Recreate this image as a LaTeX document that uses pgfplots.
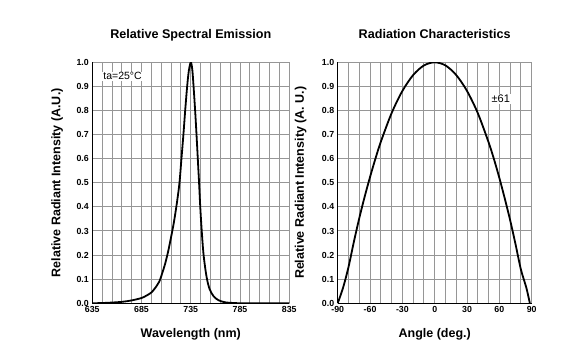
\documentclass[border=0pt]{standalone}
\usepackage{pgfplots}
\pgfplotsset{compat=1.18}
\usepackage{fontspec}
\setmainfont{Liberation Sans}
\definecolor{gridgray}{RGB}{150,150,150}
\pgfplotsset{
  chartstyle/.style={
    scale only axis,
    height=241pt,
    axis lines=left,
    axis line style={-, black, line width=1.2pt},
    grid=both,
    major grid style={gridgray, line width=1pt},
    minor grid style={gridgray, line width=1pt},
    major tick length=0pt, minor tick length=0pt,
    ymin=0, ymax=1,
    ytick={0,0.1,0.2,0.3,0.4,0.5,0.6,0.7,0.8,0.9,1.0},
    yticklabel style={/pgf/number format/.cd, fixed, fixed zerofill, precision=1},
    xticklabel style={/pgf/number format/.cd, fixed},
    /pgf/number format/assume math mode=true,
    tick label style={font=\fontsize{8.8}{10}\selectfont\bfseries},
    label style={font=\fontsize{12.5}{14}\selectfont\bfseries},
    title style={font=\fontsize{12.6}{14}\selectfont\bfseries, at={(0.5,1.0747)}, anchor=base},
    xlabel style={at={(0.5,-0.141)}, anchor=base},
  }
}
\begin{document}
\begin{tikzpicture}
\useasboundingbox (0,0) rectangle (567pt,358pt);
\begin{axis}[chartstyle,
  at={(92.3pt,54.7pt)}, anchor=south west,
  width=197pt,
  xmin=635, xmax=835,
  xtick={635,685,735,785,835},
  minor x tick num=4,
  title={Relative Spectral Emission},
  xlabel={Wavelength (nm)},
  ylabel={Relative Radiant Intensity (A.U.)},
  ylabel style={at={(-0.178,0.5)}, anchor=center},
]
\addplot[black, line width=1.8pt, smooth, tension=0.5] coordinates {
(635,0) (650,0.002) (665,0.006) (675,0.012) (685,0.022) (690,0.032)
(695,0.045) (700,0.07) (703,0.09) (706,0.125) (709,0.165) (712,0.215)
(715,0.275) (718,0.34) (721,0.42) (723.5,0.50) (725.5,0.60) (727.5,0.70)
(729.3,0.80) (731.3,0.90) (733,0.965) (735,1.0) (736.5,0.97) (737.8,0.90)
(739.4,0.80) (740.8,0.70) (742.1,0.60) (743.4,0.50) (744.6,0.40)
(746.1,0.30) (748,0.20) (751,0.11) (754,0.06) (758,0.03) (763,0.013)
(770,0.004) (780,0.001) (790,0) (835,0)
};
\node[fill=white, inner sep=1pt, anchor=base, font=\fontsize{10.5}{12}\selectfont] at (axis cs:665.7,0.927) {ta=25°C};
\end{axis}
\begin{axis}[chartstyle,
  at={(337.7pt,54.7pt)}, anchor=south west,
  width=194pt,
  xmin=-90, xmax=90,
  xtick={-90,-60,-30,0,30,60,90},
  minor x tick num=2,
  title={Radiation Characteristics},
  xlabel={Angle (deg.)},
  ylabel={Relative Radiant Intensity (A. U.)},
  ylabel style={at={(-0.191,0.5)}, anchor=center},
]
\addplot[black, line width=1.8pt, smooth, tension=0.5] coordinates {
(-90,0) (-85,0.065) (-80,0.15) (-75,0.255) (-70,0.353) (-65,0.442) (-60,0.524)
(-55,0.600) (-50,0.670) (-40,0.789) (-30,0.881) (-20,0.947) (-10,0.987) (0,1.0)
(10,0.987) (20,0.947) (30,0.881) (40,0.789) (50,0.668) (55,0.598) (60,0.52)
(65,0.435) (70,0.345) (75,0.245) (80,0.14) (85,0.065) (88.3,0)
};
\node[fill=white, inner sep=1pt, anchor=base, font=\fontsize{11}{12}\selectfont] at (axis cs:61.3,0.832) {±61};
\end{axis}
\end{tikzpicture}
\end{document}
